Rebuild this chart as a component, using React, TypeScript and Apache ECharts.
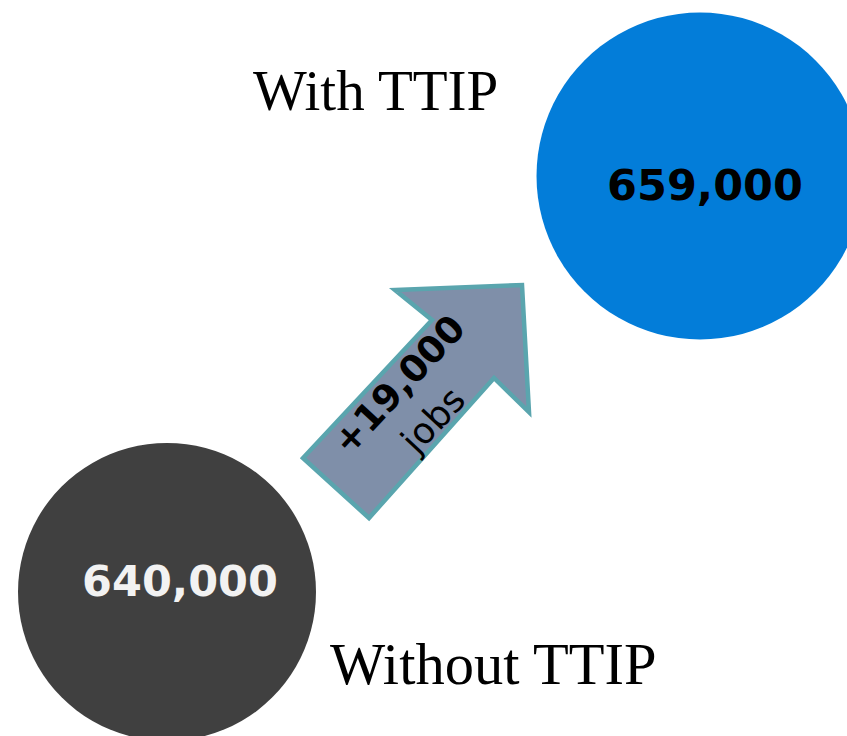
import React, { useEffect, useRef } from "react";
import * as echarts from "echarts";

const categories = ["Without TTIP", "With TTIP"];
const jobs = [640000, 659000];
const unitLabel = "jobs";

const fmt = (v: number) => v.toLocaleString("en-US");

export default function App() {
  const ref = useRef<HTMLDivElement>(null);
  useEffect(() => {
    if (!ref.current) return;
    const chart = echarts.init(ref.current, null, { renderer: "svg" });
    const diff = jobs[1] - jobs[0];
    const rot = (47 * Math.PI) / 180;
    chart.setOption({
      animation: false,
      backgroundColor: "#ffffff",
      grid: { left: 167, right: 147, top: 0, bottom: 0 },
      xAxis: {
        type: "category",
        data: categories,
        boundaryGap: false,
        show: false,
      },
      yAxis: {
        type: "value",
        min: 633420,
        max: 667040,
        show: false,
      },
      series: [
        {
          type: "scatter",
          clip: false,
          z: 2,
          itemStyle: { opacity: 1 },
          data: categories.map((c, i) => ({
            value: [c, jobs[i]],
            symbolSize: i === 0 ? 298 : 327,
            itemStyle: { color: i === 0 ? "#404040" : "#037dd9", opacity: 1 },
            label: {
              show: true,
              position: "inside",
              formatter: fmt(jobs[i]),
              fontFamily: "DejaVu Sans",
              fontWeight: "bold",
              fontSize: 43,
              opacity: 1,
              color: i === 0 ? "#f2f2f2" : "#000000",
              offset: i === 0 ? [13, -11] : [5, 9],
            },
          })),
          emphasis: { disabled: true },
        },
      ],
      graphic: [
        {
          type: "text",
          left: 253,
          top: 62,
          style: {
            text: categories[1],
            font: "57px 'Liberation Serif'",
            fill: "#000000",
          },
        },
        {
          type: "text",
          left: 330,
          top: 635,
          style: {
            text: categories[0],
            font: "58.5px 'Liberation Serif'",
            fill: "#000000",
          },
        },
        {
          type: "polygon",
          z: 10,
          shape: {
            points: [
              [303, 458],
              [369, 518],
              [494, 378],
              [529, 412],
              [522, 285],
              [395, 290],
              [432, 320],
            ],
          },
          style: { fill: "#7f8fa9", stroke: "#5aa5ae", lineWidth: 4.5 },
        },
        {
          type: "text",
          z: 11,
          x: 399,
          y: 385,
          rotation: rot,
          style: {
            text: "+" + fmt(diff),
            font: "bold 37px 'DejaVu Sans'",
            fill: "#000000",
            align: "center",
            verticalAlign: "middle",
          },
        },
        {
          type: "text",
          z: 11,
          x: 433,
          y: 420,
          rotation: rot,
          style: {
            text: unitLabel,
            font: "36px 'DejaVu Sans'",
            fill: "#000000",
            align: "center",
            verticalAlign: "middle",
          },
        },
      ],
    });
    return () => chart.dispose();
  }, []);
  return (
    <div
      ref={ref}
      style={{ position: "absolute", left: 0, top: 0, width: 847, height: 736 }}
    />
  );
}
